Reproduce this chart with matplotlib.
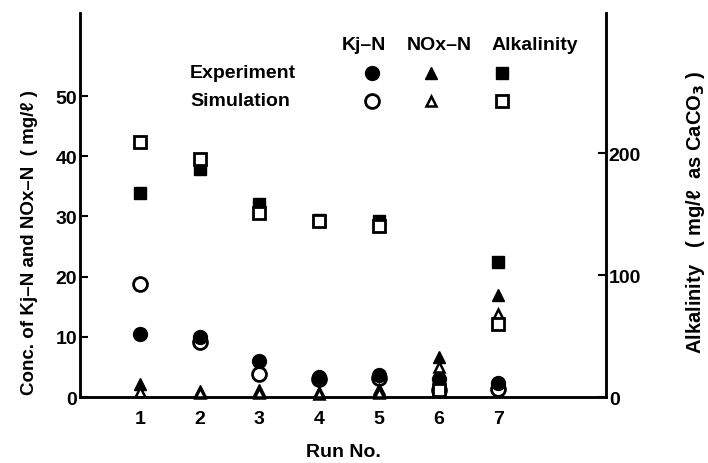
from matplotlib import pyplot as plt

plt.rcParams['font.family'] = ['Liberation Sans', 'DejaVu Sans']
plt.rcParams['font.weight'] = 'bold'
plt.rcParams['mathtext.default'] = 'bf'

# data
runs = [1, 2, 3, 4, 5, 6, 7]
kj_exp = [10.5, 10.0, 6.0, 3.3, 3.7, 3.0, 2.4]
kj_sim = [18.8, 9.2, 3.9, 3.0, 3.2, 1.2, 1.3]
nox_exp = [2.1, 1.0, 1.2, 0.8, 1.3, 6.6, 17.0]
nox_sim = [0.8, 0.6, 0.6, 0.5, 0.6, 5.0, 13.8]
alk_exp = [167, 187, 158, 145, 144, None, 111]
alk_sim = [209, 195, 151, 144, 140, 6, 60]

fs = 14

fig = plt.figure(figsize=(7.08, 4.64), dpi=100)
ax = fig.add_axes([0.113, 0.142, 0.743, 0.828])
ax2 = ax.twinx()

ax.set_xlim(0, 8.8)
ax.set_ylim(0, 63.8)
ax2.set_ylim(0, 315)

for a in (ax, ax2):
    a.spines['top'].set_visible(False)
    for s in a.spines.values():
        s.set_linewidth(1.8)

ax.set_xticks(runs)
ax.tick_params(axis='x', length=0, labelsize=fs, pad=9)
ax.set_yticks([0, 10, 20, 30, 40, 50])
ax.tick_params(axis='y', direction='in', length=6, width=1.5, labelsize=fs, pad=2)
ax2.set_yticks([0, 100, 200])
ax2.tick_params(axis='y', direction='in', length=6, width=1.5, labelsize=fs, pad=2)

# markers
ax.plot(runs, kj_sim, 'o', ms=10, mfc='white', mec='black', mew=2, zorder=3, clip_on=False)
ax.plot(runs, kj_exp, 'o', ms=10, color='black', zorder=4, clip_on=False)
ax.plot(runs, nox_exp, '^', ms=9, color='black', zorder=3, clip_on=False)
ax.plot(runs, nox_sim, '^', ms=7, mfc='white', mec='black', mew=1.8, zorder=5, clip_on=False)
ax2.plot(runs, [v if v is not None else float('nan') for v in alk_exp], 's',
         ms=9, color='black', zorder=3)
ax2.plot(runs, alk_sim, 's', ms=9, mfc='white', mec='black', mew=2, zorder=4)

ax.set_xlabel('Run No.', fontsize=fs, fontweight='bold', labelpad=12)
ax.set_ylabel('Conc. of Kj\u2013N and NOx\u2013N  ( mg/\u2113 )', fontsize=13.5,
              fontweight='bold')
ax.yaxis.set_label_coords(-0.08, 0.404)
ax2.set_ylabel('Alkalinity   ( mg/\u2113  as CaCO$_3$ )', fontsize=14.5,
               fontweight='bold')
ax2.yaxis.set_label_coords(1.148, 0.484)

# legend table drawn as text
fig.text(364 / 708, 1 - 46 / 464, 'Kj\u2013N', ha='center', va='center', fontsize=fs, fontweight='bold')
fig.text(439 / 708, 1 - 46 / 464, 'NOx\u2013N', ha='center', va='center', fontsize=fs, fontweight='bold')
fig.text(535 / 708, 1 - 46 / 464, 'Alkalinity', ha='center', va='center', fontsize=fs, fontweight='bold')
fig.text(190 / 708, 1 - 74 / 464, 'Experiment', ha='left', va='center', fontsize=fs, fontweight='bold')
fig.text(190 / 708, 1 - 102 / 464, 'Simulation', ha='left', va='center', fontsize=fs, fontweight='bold')
fig.lines.append(plt.Line2D([372 / 708], [1 - 74 / 464], marker='o', ms=10, color='black',
                            transform=fig.transFigure))
fig.lines.append(plt.Line2D([431 / 708], [1 - 74 / 464], marker='^', ms=9, color='black',
                            transform=fig.transFigure))
fig.lines.append(plt.Line2D([502 / 708], [1 - 74 / 464], marker='s', ms=9, color='black',
                            transform=fig.transFigure))
fig.lines.append(plt.Line2D([372 / 708], [1 - 102 / 464], marker='o', ms=10, mfc='white',
                            mec='black', mew=2, transform=fig.transFigure))
fig.lines.append(plt.Line2D([431 / 708], [1 - 102 / 464], marker='^', ms=7, mfc='white',
                            mec='black', mew=1.8, transform=fig.transFigure))
fig.lines.append(plt.Line2D([502 / 708], [1 - 102 / 464], marker='s', ms=9, mfc='white',
                            mec='black', mew=2, transform=fig.transFigure))

fig.savefig('out.png', dpi=100)
